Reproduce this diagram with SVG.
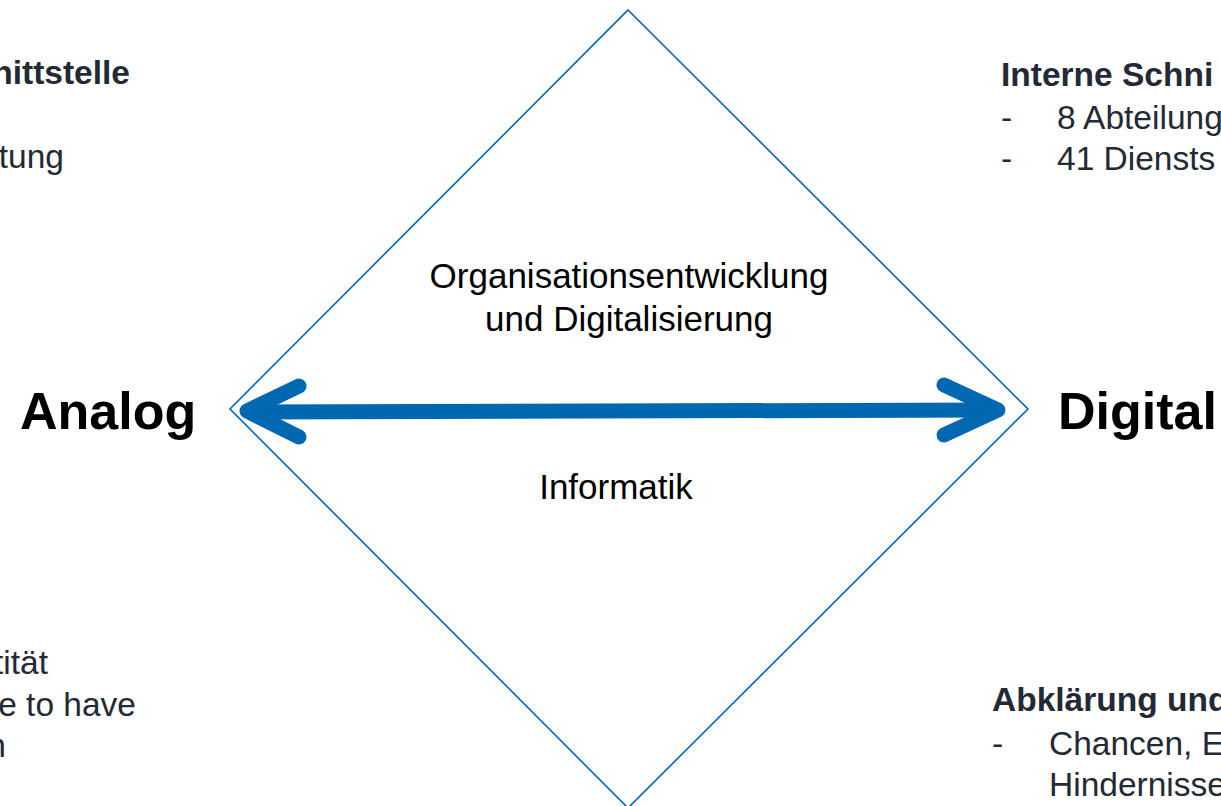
<svg xmlns="http://www.w3.org/2000/svg" width="1221" height="806" viewBox="0 0 1221 806">
<style>
.side{font-family:"Liberation Sans",Arial,sans-serif;font-size:33.5px;fill:#232a35}
.b{font-weight:bold}
.mid{font-family:"Liberation Sans",Arial,sans-serif;font-size:35px;fill:#000;text-anchor:middle}
.big{font-family:"Liberation Sans",Arial,sans-serif;font-size:52px;font-weight:bold;fill:#000}
.conn{fill:none;stroke:#0067b1;stroke-width:15;stroke-linecap:round;stroke-linejoin:round}
</style>
<rect width="1221" height="806" fill="#fff"/>
<g id="diamond">
<polygon points="628,10 1028,409 628,808 230,409" fill="none" stroke="#0067b1" stroke-width="1.6"/>
</g>
<g id="center-labels">
<text class="mid" x="629" y="288">Organisationsentwicklung</text>
<text class="mid" x="629" y="331">und Digitalisierung</text>
<text class="mid" x="616" y="499">Informatik</text>
</g>
<g id="analog"><text class="big" x="20" y="429">Analog</text></g>
<g id="digital"><text class="big" x="1058" y="429">Digital</text></g>
<g id="connectors">
<path class="conn" d="M252,412 L996,410"/>
<path class="conn" d="M299,386 L247,411 L299,437"/>
<path class="conn" d="M944,385 L998,410 L944,435"/>
</g>
<g id="left-top">
<text class="side b" x="130" y="84" text-anchor="end">nittstelle</text>
<text class="side" x="64" y="168" text-anchor="end">tung</text>
</g>
<g id="left-bottom">
<text class="side" x="48" y="674" text-anchor="end">tität</text>
<text class="side" x="136" y="716" text-anchor="end">e to have</text>
<text class="side" x="6" y="757" text-anchor="end">n</text>
</g>
<g id="right-top">
<text class="side b" x="1001" y="86">Interne Schni</text>
<text class="side" x="1001" y="129">-</text>
<text class="side" x="1057" y="129">8 Abteilung</text>
<text class="side" x="1001" y="170">-</text>
<text class="side" x="1057" y="170">41 Diensts</text>
</g>
<g id="right-bottom">
<text class="side b" x="992" y="711">Abklärung und</text>
<text class="side" x="992" y="755">-</text>
<text class="side" x="1049" y="755">Chancen, E</text>
<text class="side" x="1049" y="796">Hindernisse</text>
</g>
</svg>
